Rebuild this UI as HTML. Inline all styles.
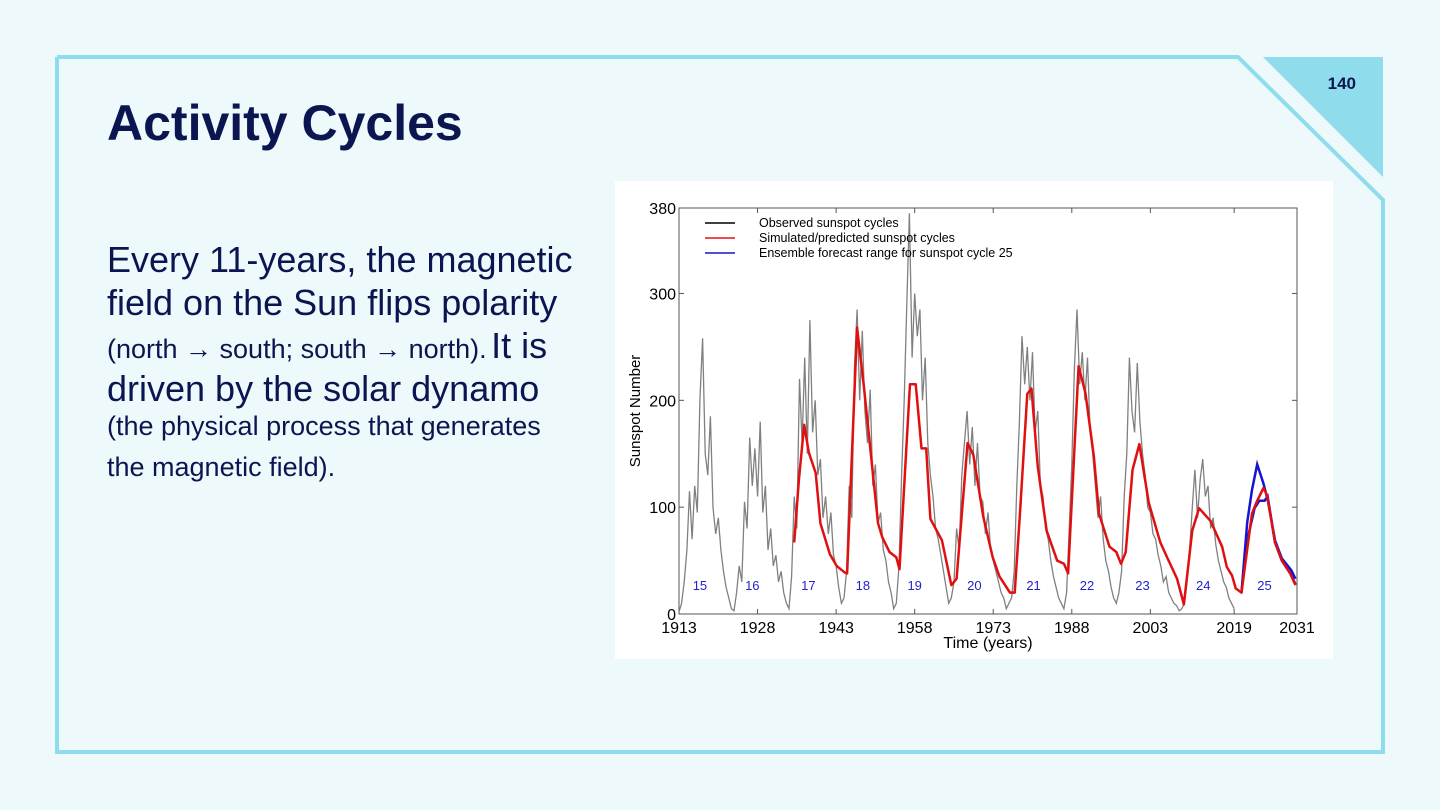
<!DOCTYPE html>
<html><head><meta charset="utf-8"><style>
html,body{margin:0;padding:0}
body{width:1440px;height:810px;background:#eef9fc;position:relative;overflow:hidden;font-family:"Liberation Sans",sans-serif;color:#0b1650}
.t{position:absolute;left:107px;white-space:nowrap}
.big{font-size:36px}
.sm{font-size:27px}
</style></head><body>
<svg style="position:absolute;left:0;top:0" width="1440" height="810">
<polyline points="57,57 1238,57 1383,200 1383,752 57,752 57,57" fill="none" stroke="#8fdced" stroke-width="4"/>
<polygon points="1263,57 1383,57 1383,177" fill="#8fdced"/>
<text x="1356" y="89" text-anchor="end" font-size="17" font-weight="bold" fill="#0b1650" font-family="Liberation Sans, sans-serif">140</text>
</svg>
<div class="t" style="top:94px;font-size:50px;font-weight:bold;">Activity Cycles</div>
<div class="t big" style="top:239px">Every 11-years, the magnetic</div>
<div class="t big" style="top:282px">field on the Sun flips polarity</div>
<div class="t" style="top:325px"><span class="sm">(north → south; south → north).</span> <span class="big">It is</span></div>
<div class="t big" style="top:368px">driven by the solar dynamo</div>
<div class="t sm" style="top:411px">(the physical process that generates</div>
<div class="t sm" style="top:452px">the magnetic field).</div>

<svg id="chart" style="position:absolute;left:615px;top:181px;background:#fff" width="718" height="478"></svg>
<script>
const years0 = 1913, step = 0.5;
const observed = [2,10,30,60,115,70,120,95,200,258,150,130,185,100,75,90,60,40,25,15,5,
3,20,45,30,105,80,165,120,155,110,180,95,120,60,80,45,55,30,40,20,10,
5,35,110,80,220,160,240,150,275,170,200,130,145,90,110,75,95,55,45,25,10,
15,40,120,90,230,285,200,265,190,160,210,120,140,85,95,60,50,30,20,5,
10,45,130,200,290,375,240,300,260,285,200,240,160,130,110,80,70,55,40,25,10,
15,30,80,60,130,160,190,140,175,120,160,110,105,75,95,60,50,40,30,20,15,5,10,
15,40,120,180,260,215,250,200,245,170,190,120,110,80,70,50,35,25,15,10,5,
20,80,140,230,285,215,245,200,240,170,150,120,90,110,70,50,40,25,15,10,
20,40,110,150,240,190,170,235,180,150,130,100,95,75,70,55,45,30,35,20,15,10,8,3,5,
10,30,60,100,135,90,125,145,110,120,80,90,65,50,40,30,25,15,10,5];
const simYears = [1935.0,1935.9,1936.9,1937.8,1939.1,1940.0,1941.8,1943.1,1944.6,1945.1,1947.0,1948.3,1951.0,1951.8,1953.2,1954.5,1955.1,1957.1,1958.2,1959.3,1960.2,1961.0,1963.2,1965.0,1966.0,1968.1,1969.2,1971.1,1972.9,1974.2,1976.2,1977.1,1978.1,1979.5,1980.3,1981.5,1983.2,1985.2,1986.5,1987.3,1989.3,1990.6,1992.2,1993.2,1995.2,1996.5,1997.4,1998.3,1999.6,2000.9,2002.7,2004.9,2006.2,2008.1,2009.4,2011.0,2012.3,2014.5,2016.7,2017.6,2018.6,2019.3,2020.4,2022.4,2023.3,2024.6,2025.3,2026.8,2028.1,2029.7,2030.7];
const simValues = [67,126,177,151,132,85,56,45,39,38,268,213,85,72,58,53,42,215,215,155,155,89,69,27,33,160,149,91,53,35,20,20,94,206,211,138,78,50,47,38,232,207,148,94,63,58,47,58,135,159,104,67,53,33,9,78,99,87,63,44,36,24,20,94,105,118,111,67,50,38,27];
const ensUpperYears = [2020.4,2021.5,2022.4,2023.4,2024.6,2025.4,2026.8,2028.1,2029.9,2030.7];
const ensUpperValues = [20,86,116,140,122,107,69,52,41,33];
const ensLowerYears = [2020.4,2021.5,2022.9,2023.8,2024.8,2025.4,2026.8,2028.1,2029.7,2030.7];
const ensLowerValues = [20,69,99,106,106,110,67,50,38,28];
const cycleLabels = ['15','16','17','18','19','20','21','22','23','24','25'];
const cycleYears = [1917,1927,1937.7,1948.1,1958.0,1969.4,1980.7,1990.9,2001.5,2013.1,2024.8];
const xTicks = [1913,1928,1943,1958,1973,1988,2003,2019,2031];
const yTicks = [0,100,200,300,380];

const svg = document.getElementById('chart');
const NS = 'http://www.w3.org/2000/svg';
const L=64,R=682,T=27,B=433;
const X = y => L + (y-1913)/(2031-1913)*(R-L);
const Y = v => B - v/380*(B-T);
function mk(tag, attrs, parent){const e=document.createElementNS(NS,tag);for(const k in attrs)e.setAttribute(k,attrs[k]);(parent||svg).appendChild(e);return e;}

const frame = mk('rect',{x:L,y:T,width:R-L,height:B-T,fill:'none',stroke:'#555','stroke-width':1});



xTicks.forEach(t=>{
  const g=mk('g',{});
  
  
  mk('line',{x1:X(t),x2:X(t),y1:B,y2:B-5,stroke:'#555'},g);
  mk('line',{x1:X(t),x2:X(t),y1:T,y2:T+5,stroke:'#555'},g);
  const tx=mk('text',{x:X(t),y:B+19,'text-anchor':'middle','font-size':16,fill:'#000','font-family':'Liberation Sans, sans-serif'},g);
  tx.textContent=t;
});
yTicks.forEach(t=>{
  const g=mk('g',{});
  
  
  mk('line',{x1:L,x2:L+5,y1:Y(t),y2:Y(t),stroke:'#555'},g);
  mk('line',{x1:R,x2:R-5,y1:Y(t),y2:Y(t),stroke:'#555'},g);
  const tx=mk('text',{x:L-3,y:Y(t)+6,'text-anchor':'end','font-size':16,fill:'#000','font-family':'Liberation Sans, sans-serif'},g);
  tx.textContent=t;
});
const yt=mk('text',{x:0,y:0,transform:`translate(25,${(T+B)/2}) rotate(-90)`,'text-anchor':'middle','font-size':15,fill:'#000','font-family':'Liberation Sans, sans-serif'});
yt.textContent='Sunspot Number';


const xt=mk('text',{x:373,y:467,'text-anchor':'middle','font-size':16,fill:'#000','font-family':'Liberation Sans, sans-serif'});
xt.textContent='Time (years)';



const obsPts = observed.map((v,i)=>`${X(years0+i*step).toFixed(1)},${Y(v).toFixed(1)}`).join(' ');
const obs=mk('polyline',{points:obsPts,fill:'none',stroke:'#808080','stroke-width':1.3});



const up=mk('polyline',{points:ensUpperYears.map((y,i)=>`${X(y)},${Y(ensUpperValues[i])}`).join(' '),fill:'none',stroke:'#1515d0','stroke-width':2.5});


const lo=mk('polyline',{points:ensLowerYears.map((y,i)=>`${X(y)},${Y(ensLowerValues[i])}`).join(' '),fill:'none',stroke:'#1515d0','stroke-width':2.5});


const sim=mk('polyline',{points:simYears.map((y,i)=>`${X(y)},${Y(simValues[i])}`).join(' '),fill:'none',stroke:'#e01010','stroke-width':2.5,'stroke-linejoin':'round'});



cycleLabels.forEach((c,i)=>{
  const t=mk('text',{x:X(cycleYears[i]),y:Y(27)+5,'text-anchor':'middle','font-size':13,fill:'#2222cc','font-family':'Liberation Sans, sans-serif'});
  t.textContent=c;
  
  
});

const legItems=[['#000','Observed sunspot cycles'],['#e01010','Simulated/predicted sunspot cycles'],['#1515d0','Ensemble forecast range for sunspot cycle 25']];
legItems.forEach((it,i)=>{
  const g=mk('g',{});
  
  
  const yy=42+i*15;
  mk('line',{x1:90,x2:120,y1:yy,y2:yy,stroke:it[0],'stroke-width':1.5},g);
  const t=mk('text',{x:144,y:yy+4,'font-size':12.5,fill:'#000','font-family':'Liberation Sans, sans-serif'},g);
  t.textContent=it[1];
});
</script>
</body></html>
